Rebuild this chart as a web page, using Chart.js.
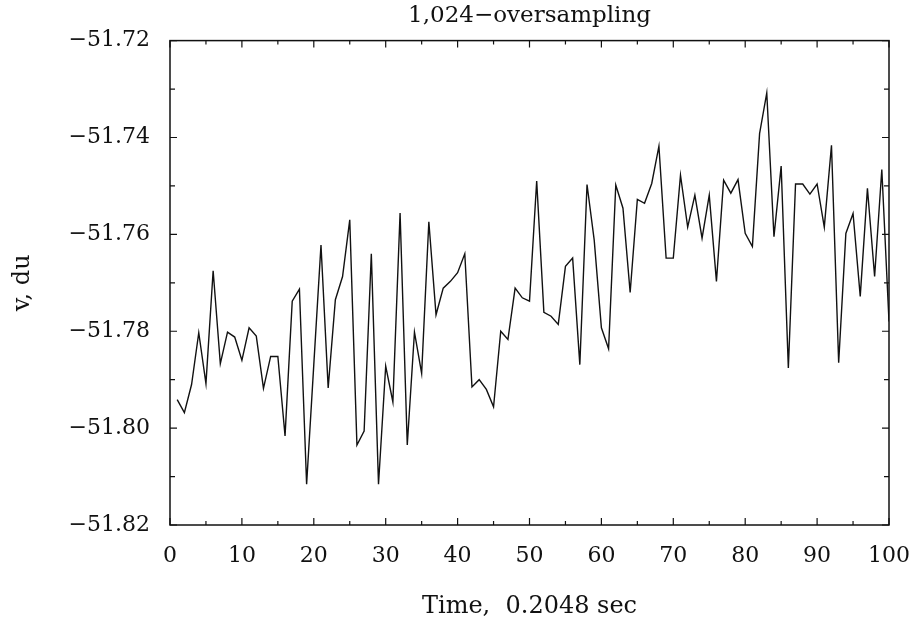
<!DOCTYPE html>
<html>
<head>
<meta charset="utf-8">
<script src="https://cdn.jsdelivr.net/npm/chart.js@4"></script>
<style>
  html, body { margin: 0; padding: 0; background: #fff; }
</style>
</head>
<body>
<canvas id="sampleChart" width="913" height="627"></canvas>
<script>
// sample index (one step = 0.2048 sec)
const times = [
  1, 2, 3, 4, 5, 6, 7, 8, 9, 10,
  11, 12, 13, 14, 15, 16, 17, 18, 19, 20,
  21, 22, 23, 24, 25, 26, 27, 28, 29, 30,
  31, 32, 33, 34, 35, 36, 37, 38, 39, 40,
  41, 42, 43, 44, 45, 46, 47, 48, 49, 50,
  51, 52, 53, 54, 55, 56, 57, 58, 59, 60,
  61, 62, 63, 64, 65, 66, 67, 68, 69, 70,
  71, 72, 73, 74, 75, 76, 77, 78, 79, 80,
  81, 82, 83, 84, 85, 86, 87, 88, 89, 90,
  91, 92, 93, 94, 95, 96, 97, 98, 99, 100,
];

// v, du
const vValues = [
  -51.7941, -51.7968, -51.7910, -51.7803, -51.7908, -51.7675, -51.7867, -51.7802, -51.7812, -51.7860,
  -51.7793, -51.7810, -51.7918, -51.7852, -51.7852, -51.8016, -51.7738, -51.7713, -51.8116, -51.7869,
  -51.7622, -51.7917, -51.7735, -51.7687, -51.7570, -51.8035, -51.8006, -51.7640, -51.8116, -51.7872,
  -51.7946, -51.7556, -51.8035, -51.7802, -51.7887, -51.7574, -51.7766, -51.7711, -51.7697, -51.7679,
  -51.7640, -51.7915, -51.7900, -51.7920, -51.7956, -51.7800, -51.7817, -51.7711, -51.7731, -51.7738,
  -51.7490, -51.7761, -51.7769, -51.7786, -51.7666, -51.7649, -51.7869, -51.7497, -51.7612, -51.7793,
  -51.7836, -51.7498, -51.7546, -51.7720, -51.7528, -51.7536, -51.7495, -51.7418, -51.7649, -51.7649,
  -51.7478, -51.7585, -51.7519, -51.7608, -51.7519, -51.7697, -51.7488, -51.7515, -51.7487, -51.7598,
  -51.7625, -51.7392, -51.7308, -51.7605, -51.7459, -51.7876, -51.7496, -51.7496, -51.7517, -51.7496,
  -51.7585, -51.7416, -51.7865, -51.7598, -51.7557, -51.7728, -51.7505, -51.7687, -51.7466, -51.7780,
];

const titleText = '1,024\u2212oversampling';
const xTitle = 'Time,  0.2048 sec';
const yTitle = 'v, du';
const xRange = [0, 100];
const yRange = [-51.82, -51.72];

const serif = (size) => ({ family: '"DejaVu Serif", serif', size, weight: 'normal' });
const ink = '#111';

// frame + inward tick marks on all four sides
const framePlugin = {
  id: 'frame',
  afterDatasetsDraw(chart) {
    const { ctx, chartArea: a, scales } = chart;
    ctx.save();
    ctx.strokeStyle = ink;
    ctx.lineWidth = 1.5;
    ctx.strokeRect(a.left, a.top, a.right - a.left, a.bottom - a.top);
    ctx.lineWidth = 1.2;
    ctx.beginPath();
    scales.x.ticks.forEach(t => {
      const px = scales.x.getPixelForValue(t.value);
      const len = Math.round(t.value) % 10 === 0 ? 7 : 4;
      ctx.moveTo(px, a.bottom); ctx.lineTo(px, a.bottom - len);
      ctx.moveTo(px, a.top); ctx.lineTo(px, a.top + len);
    });
    scales.y.ticks.forEach(t => {
      const py = scales.y.getPixelForValue(t.value);
      const len = Math.round(t.value * 100) % 2 === 0 ? 7 : 5;
      ctx.moveTo(a.left, py); ctx.lineTo(a.left + len, py);
      ctx.moveTo(a.right, py); ctx.lineTo(a.right - len, py);
    });
    ctx.stroke();
    ctx.restore();
  },
};

new Chart(document.getElementById('sampleChart'), {
  type: 'line',
  data: {
    datasets: [{
      data: times.map((t, i) => ({ x: t, y: vValues[i] })),
      borderColor: ink,
      borderWidth: 1.4,
      pointRadius: 0,
      tension: 0,
      fill: false,
    }],
  },
  options: {
    responsive: false,
    animation: false,
    devicePixelRatio: 1,
    layout: { padding: { left: 0, right: 24, top: 0, bottom: 0 } },
    plugins: {
      legend: { display: false },
      tooltip: { enabled: false },
      title: {
        display: true,
        text: titleText,
        fullSize: false,
        color: ink,
        font: serif(23),
        padding: { top: 2, bottom: 11 },
      },
    },
    scales: {
      x: {
        type: 'linear',
        min: xRange[0], max: xRange[1],
        grid: { display: false },
        border: { display: false },
        ticks: {
          stepSize: 5,
          autoSkip: false,
          maxRotation: 0,
          padding: 10,
          color: ink,
          font: serif(22),
          callback: v => (Math.round(v) % 10 === 0 ? String(v) : ''),
        },
        title: { display: true, text: xTitle, color: ink, font: serif(24), padding: { top: 0, bottom: 6 } },
        afterFit: s => { s.height = 102; s.paddingLeft = 0; s.paddingRight = 0; },
      },
      y: {
        min: yRange[0], max: yRange[1],
        grid: { display: false },
        border: { display: false },
        ticks: {
          stepSize: 0.01,
          autoSkip: false,
          padding: 12,
          color: ink,
          font: serif(22),
          callback: v => (Math.round(v * 100) % 2 === 0 ? '\u2212' + Math.abs(v).toFixed(2) : ''),
        },
        title: { display: true, text: yTitle, color: ink, font: serif(24), padding: { top: 8, bottom: 0 } },
        afterFit: s => { s.width = 170; },
      },
    },
  },
  plugins: [framePlugin],
});
</script>
</body>
</html>
